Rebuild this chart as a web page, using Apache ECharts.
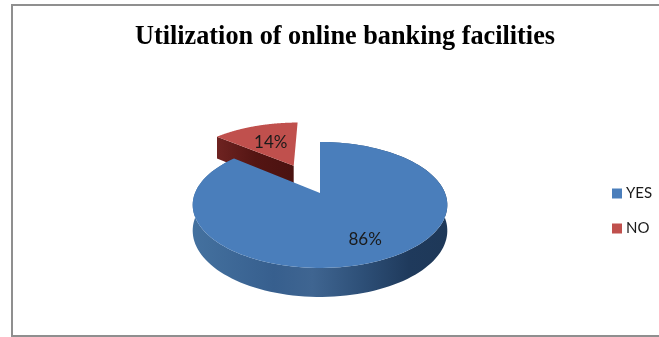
<!DOCTYPE html>
<html>
<head>
<meta charset="utf-8">
<style>html,body{margin:0;padding:0;background:#fff}#chart{width:659px;height:337px}</style>
<script src="https://cdn.jsdelivr.net/npm/echarts@6/dist/echarts.min.js"></script>
</head>
<body>
<div id="chart"></div>
<script>
// Chart content
const chartTitle = 'Utilization of online banking facilities';
const categories = ['YES', 'NO'];
const shares = [86, 14];
const faceColors = ['#4a7ebb', '#c0504d'];

// Disc projection: centre of the pie on screen, radii and perspective strength
const view = { cx: 320, cy: 193, rx: 125, ry: 60.7, persp: 0.19, depth: 25 };
const explode = [0, 0.54];
const labelRadius = [0.74, 0.56];

function project(u, v) {
  const w = 1 / (1 - view.persp * v);
  return { x: view.cx + view.rx * u * w, y: view.cy + view.ry * v * w, drop: view.depth * Math.pow(w, 0.7) };
}

// Angles run clockwise from twelve o'clock, as a fraction of the whole turn
function slicePoint(turn, radius, ou, ov) {
  const a = turn * 2 * Math.PI;
  return project(ou + radius * Math.sin(a), ov - radius * Math.cos(a));
}

const total = shares.reduce((s, v) => s + v, 0);

function sliceRenderer(index) {
  return function (params, api) {
    const value = api.value(0);
    let start = 0;
    for (let i = 0; i < index; i++) start += shares[i] / total;
    const end = start + value / total;
    const mid = (start + end) / 2 * 2 * Math.PI;
    const ou = explode[index] * Math.sin(mid);
    const ov = -explode[index] * Math.cos(mid);
    const steps = 140;
    const top = [], under = [];
    for (let i = 0; i <= steps; i++) {
      const p = slicePoint(start + (end - start) * i / steps, 1, ou, ov);
      top.push([p.x, p.y]);
      under.push([p.x, p.y + p.drop]);
    }
    const apex = project(ou, ov);
    const children = [];

    if (index === 0) {
      // Outer rim: only the near side of the large slice shows
      children.push({
        type: 'polygon',
        shape: { points: top.concat(under.slice().reverse()) },
        style: {
          fill: new echarts.graphic.LinearGradient(0, 0, 1, 0, [
            { offset: 0, color: '#44719f' },
            { offset: 0.32, color: '#375f8e' },
            { offset: 0.47, color: '#3f6591' },
            { offset: 0.66, color: '#2e5078' },
            { offset: 0.85, color: '#1f3a5c' },
            { offset: 1, color: '#1e3858' }
          ])
        }
      });
    } else {
      // Cut face that turns towards the viewer on the exploded slice
      const c0 = slicePoint(start, 1, ou, ov);
      children.push({
        type: 'polygon',
        shape: { points: [[c0.x, c0.y], [apex.x, apex.y], [apex.x, apex.y + apex.drop], [c0.x, c0.y + c0.drop]] },
        style: {
          fill: new echarts.graphic.LinearGradient(0, 0, 1, 0, [
            { offset: 0, color: '#6e2321' },
            { offset: 0.5, color: '#541513' },
            { offset: 1, color: '#4a1210' }
          ])
        }
      });
    }

    // Top face
    children.push({
      type: 'polygon',
      shape: { points: top.concat([[apex.x, apex.y]]) },
      style: { fill: faceColors[index] }
    });

    // Percentage label
    const lp = project(ou + labelRadius[index] * Math.sin(mid), ov - labelRadius[index] * Math.cos(mid));
    children.push({
      type: 'text',
      z2: 10,
      style: {
        x: lp.x, y: lp.y,
        text: Math.round(value / total * 100) + '%',
        fill: '#1a1a1a',
        font: '17px Lato',
        align: 'center',
        verticalAlign: 'middle'
      }
    });
    return { type: 'group', children: children };
  };
}

const chart = echarts.init(document.getElementById('chart'), null, { renderer: 'canvas' });
chart.setOption({
  animation: false,
  backgroundColor: '#ffffff',
  title: {
    text: chartTitle,
    left: 340,
    top: 19,
    textAlign: 'center',
    textStyle: { fontFamily: 'Liberation Serif', fontWeight: 'bold', fontSize: 26.25, color: '#000000' }
  },
  legend: {
    data: categories,
    orient: 'vertical',
    left: 607,
    top: 181,
    itemWidth: 10,
    itemHeight: 10,
    itemGap: 20,
    icon: 'rect',
    textStyle: { fontFamily: 'Lato', fontSize: 15, color: '#1a1a1a', padding: [0, 0, 0, -1] },
    selectedMode: false
  },
  graphic: [{
    type: 'polyline',
    silent: true,
    shape: { points: [[659, 5], [12, 5], [12, 336], [659, 336]] },
    style: { stroke: '#8f8f8f', lineWidth: 2, fill: 'none' }
  }],
  series: [
    {
      type: 'custom', name: categories[1], coordinateSystem: 'none', z: 1, silent: true,
      itemStyle: { color: faceColors[1] },
      renderItem: sliceRenderer(1), data: [[shares[1]]]
    },
    {
      type: 'custom', name: categories[0], coordinateSystem: 'none', z: 2, silent: true,
      itemStyle: { color: faceColors[0] },
      renderItem: sliceRenderer(0), data: [[shares[0]]]
    }
  ]
});
</script>
</body>
</html>
